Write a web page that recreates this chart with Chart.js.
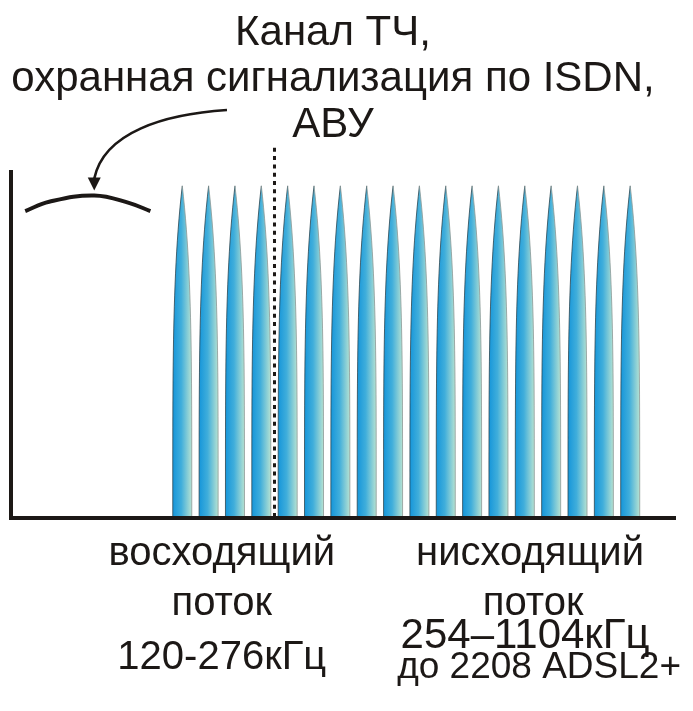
<!DOCTYPE html>
<html>
<head>
<meta charset="utf-8">
<script src="https://cdn.jsdelivr.net/npm/chart.js@4"></script>
<style>
    html, body { margin: 0; padding: 0; background: #ffffff; }
    #spectrumChart { display: block; }
</style>
</head>
<body>
<canvas id="spectrumChart" width="693" height="711"></canvas>
<script>
// tone positions (carrier index) and their levels
const tones = [0, 1, 2, 3, 4, 5, 6, 7, 8, 9, 10, 11, 12, 13, 14, 15, 16, 17];
const toneLevels = [96, 96, 96, 96, 96, 96, 96, 96, 96, 96, 96, 96, 96, 96, 96, 96, 96, 96];

// voice band (Канал ТЧ) curve
const voiceX = [-5.96, -5.05, -3.34, -2.0, -1.21];
const voiceY = [88.7, 91.4, 93.2, 91.0, 88.7];

// boundary between upstream and downstream
const splitTone = 3.5;
const splitTop = 107;

// texts
const titleLines = ['Канал ТЧ,', 'охранная сигнализация по ISDN,', 'АВУ'];
const upLines = ['восходящий', 'поток', '120-276кГц'];
const downLines = ['нисходящий', 'поток', '254–1104кГц', 'до 2208 ADSL2+'];

const FONT = "'Liberation Sans', Arial, sans-serif";
const INK = '#1c1816';

document.addEventListener("DOMContentLoaded", () => {
    const ctx = document.getElementById('spectrumChart').getContext('2d');

    // draw each bar as a narrow pointed spike with a blue gradient
    const spikePlugin = {
        id: 'spikes',
        beforeDatasetDraw(chart, args) {
            if (args.meta.type !== 'bar') return;
            const c = chart.ctx;
            args.meta.data.forEach(el => {
                const cx = el.x, top = el.y, base = el.base - 2, w = el.width;
                const h = base - top;
                const steps = 30;
                const left = [], right = [];
                for (let s = 0; s <= steps; s++) {
                    const t = s / steps;
                    const half = w / 2 * (1 - Math.pow(1 - t, 4));
                    left.push([cx - half, top + t * h]);
                    right.push([cx + half, top + t * h]);
                }
                const grad = c.createLinearGradient(cx - w / 2, 0, cx + w / 2, 0);
                grad.addColorStop(0, '#1696da');
                grad.addColorStop(0.45, '#40aedb');
                grad.addColorStop(1, '#b6e2d2');
                c.save();
                c.beginPath();
                c.moveTo(left[steps][0], left[steps][1]);
                for (let s = steps; s >= 0; s--) c.lineTo(left[s][0], left[s][1]);
                for (let s = 0; s <= steps; s++) c.lineTo(right[s][0], right[s][1]);
                c.closePath();
                c.fillStyle = grad;
                c.fill();
                c.lineWidth = 0.8;
                c.strokeStyle = '#2c4650';
                c.beginPath();
                left.forEach((p, i) => i ? c.lineTo(p[0], p[1]) : c.moveTo(p[0], p[1]));
                c.stroke();
                c.strokeStyle = '#8c9896';
                c.beginPath();
                right.forEach((p, i) => i ? c.lineTo(p[0], p[1]) : c.moveTo(p[0], p[1]));
                c.stroke();
                c.restore();
            });
            return false;
        }
    };

    // dotted split line, arrow and all texts
    const decorPlugin = {
        id: 'decor',
        afterDatasetsDraw(chart) {
            const c = chart.ctx;
            const xs = chart.scales.x, ys = chart.scales.y;
            c.save();

            // dotted line
            const sx = xs.getPixelForValue(splitTone);
            c.setLineDash([4, 4.3]);
            c.lineWidth = 3;
            c.strokeStyle = INK;
            c.beginPath();
            c.moveTo(sx, ys.getPixelForValue(splitTop));
            c.lineTo(sx, ys.getPixelForValue(0) - 2);
            c.stroke();
            c.setLineDash([]);

            // arrow to the voice band
            const peak = chart.getDatasetMeta(1).data[2];
            const tipX = peak.x, tipY = peak.y - 5;
            c.lineWidth = 2.6;
            c.beginPath();
            c.moveTo(227, 110);
            c.bezierCurveTo(165, 114, 104, 132, tipX, tipY - 12);
            c.stroke();
            c.fillStyle = INK;
            c.beginPath();
            c.moveTo(tipX - 6.5, tipY - 13);
            c.lineTo(tipX + 6.5, tipY - 13);
            c.lineTo(tipX, tipY);
            c.closePath();
            c.fill();

            // texts
            c.textAlign = 'center';
            c.textBaseline = 'alphabetic';
            c.font = '42px ' + FONT;
            const titleY = [45, 91, 137];
            titleLines.forEach((line, i) => c.fillText(line, 333, titleY[i]));

            c.font = '40px ' + FONT;
            const upX = xs.getPixelForValue(1.5);
            const upY = [565, 615, 669];
            upLines.forEach((line, i) => c.fillText(line, upX, upY[i]));

            const downX = xs.getPixelForValue(13.2);
            const downY = [565, 615, 648, 678];
            const downSize = [40, 40, 42, 37];
            const downShift = [0, 3, -5, 9];
            downLines.forEach((line, i) => {
                c.font = downSize[i] + 'px ' + FONT;
                c.fillText(line, downX + downShift[i], downY[i]);
            });
            c.restore();
        }
    };

    new Chart(ctx, {
        type: 'bar',
        data: {
            datasets: [{
                label: 'Тоны',
                data: tones.map((t, i) => ({ x: t, y: toneLevels[i] })),
                backgroundColor: '#3aa9da',
                barThickness: 19,
                order: 2
            }, {
                type: 'line',
                label: 'Канал ТЧ',
                data: voiceX.map((x, i) => ({ x: x, y: voiceY[i] })),
                borderColor: INK,
                borderWidth: 4,
                pointRadius: 0,
                tension: 0.4,
                fill: false,
                order: 1
            }]
        },
        options: {
            responsive: false,
            animation: false,
            layout: { padding: { top: 172, bottom: 193, left: 11, right: 18 } },
            scales: {
                x: {
                    type: 'linear',
                    offset: false,
                    min: -6.5,
                    max: 18.7,
                    grid: { display: false, drawTicks: false },
                    ticks: { display: false },
                    border: { display: true, width: 4, color: INK }
                },
                y: {
                    min: 0,
                    max: 100,
                    grid: { display: false, drawTicks: false },
                    ticks: { display: false },
                    border: { display: true, width: 4, color: INK }
                }
            },
            plugins: {
                legend: { display: false },
                tooltip: { enabled: false },
                title: { display: false }
            }
        },
        plugins: [spikePlugin, decorPlugin]
    });
});
</script>
</body>
</html>
